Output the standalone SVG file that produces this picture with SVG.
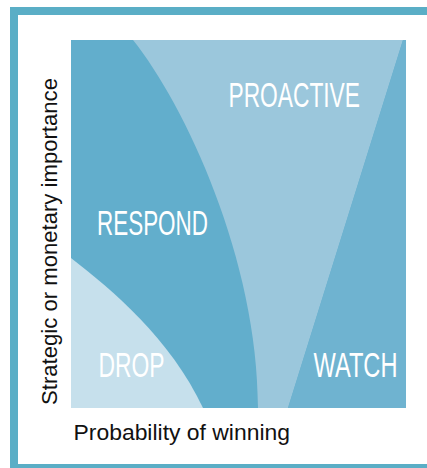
<svg xmlns="http://www.w3.org/2000/svg" width="427" height="468" viewBox="0 0 427 468">
  <style>
    .frame { fill: #ffffff; stroke: #5aaec6; stroke-width: 8; }
    .respond { fill: #62aecc; }
    .proactive { fill: #9bc7dc; }
    .watch { fill: #6fb3d0; }
    .drop { fill: #c6e0ec; }
    .zone-label { font-family: "Liberation Sans", Arial, sans-serif; font-size: 36px; fill: #ffffff; }
    .axis-label { font-family: "Liberation Sans", Arial, sans-serif; font-size: 22.5px; fill: #111111; }
  </style>

  <!-- outer frame, open past the right and bottom edges -->
  <rect class="frame" x="14" y="11" width="420" height="457"/>

  <!-- base field of the chart -->
  <g id="respond">
    <rect class="respond" x="71" y="40" width="335" height="368"/>
    <text class="zone-label" transform="translate(97,235) scale(0.63,1)" textLength="176.2" lengthAdjust="spacingAndGlyphs">RESPOND</text>
  </g>

  <g id="proactive">
    <path class="proactive" d="M133,40 C185,105 258,260 258,408 L288,408 L403,40 Z"/>
    <text class="zone-label" transform="translate(228.5,107) scale(0.63,1)" textLength="208.7" lengthAdjust="spacingAndGlyphs">PROACTIVE</text>
  </g>

  <g id="watch">
    <path class="watch" d="M403,40 L406,40 L406,408 L288,408 Z"/>
    <text class="zone-label" transform="translate(313.5,377) scale(0.63,1)" textLength="133.3" lengthAdjust="spacingAndGlyphs">WATCH</text>
  </g>

  <g id="drop">
    <path class="drop" d="M71,258 C112,290 170,338 203,408 L71,408 Z"/>
    <text class="zone-label" transform="translate(98.5,377) scale(0.63,1)" textLength="104.8" lengthAdjust="spacingAndGlyphs">DROP</text>
  </g>

  <!-- axis titles -->
  <g id="axes">
    <text class="axis-label" transform="translate(73.5,439.5) scale(0.92,1)" textLength="235.3" lengthAdjust="spacingAndGlyphs">Probability of winning</text>
    <text class="axis-label" transform="translate(57.3,405) rotate(-90) scale(0.92,1)" textLength="355.4" lengthAdjust="spacingAndGlyphs">Strategic or monetary importance</text>
  </g>
</svg>
